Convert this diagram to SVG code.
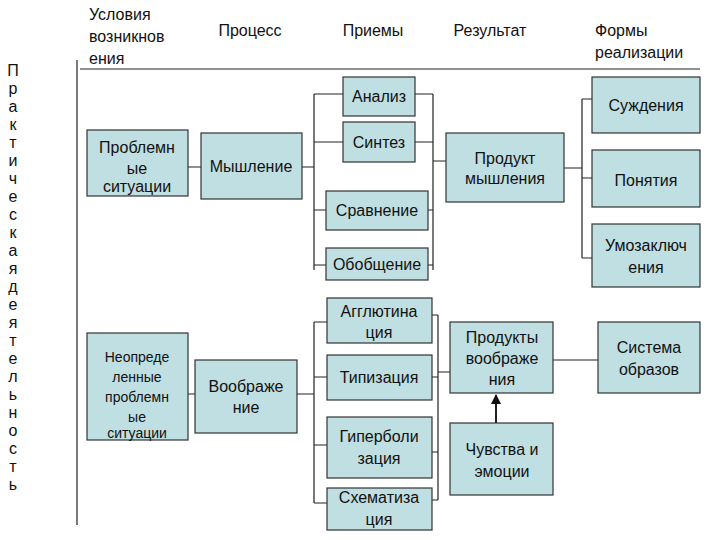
<svg xmlns="http://www.w3.org/2000/svg" width="720" height="540" viewBox="0 0 720 540">
<style>
.b{fill:#bfdfe2;stroke:#333;stroke-width:1.2}
.c{stroke:#222;stroke-width:1.2;fill:none}
text{font-family:"Liberation Sans",Arial,sans-serif;font-size:16px;fill:#111;text-anchor:middle}
.h{text-anchor:start}
.v{font-size:13px;fill:#222}
</style>
<defs><marker id="a" viewBox="0 0 10 10" refX="9" refY="5" markerWidth="5" markerHeight="5" orient="auto"><path d="M0,0L10,5L0,10z" fill="#111"/></marker></defs>
<rect width="720" height="540" fill="#fff"/>
<g id="headers">
<text class="h" x="89" y="20">Условия</text><text class="h" x="89" y="42">возникнов</text><text class="h" x="89" y="64">ения</text>
<text x="250" y="36">Процесс</text><text x="373" y="36">Приемы</text><text x="490" y="36">Результат</text>
<text class="h" x="595" y="36">Формы</text><text class="h" x="595" y="58">реализации</text>
<g class="v">
<text x="13" y="76">П</text><text x="13" y="94">р</text><text x="13" y="112">а</text><text x="13" y="130">к</text><text x="13" y="148">т</text><text x="13" y="166">и</text><text x="13" y="184">ч</text><text x="13" y="202">е</text><text x="13" y="220">с</text><text x="13" y="238">к</text><text x="13" y="256">а</text><text x="13" y="274">я</text><text x="13" y="292">д</text><text x="13" y="310">е</text><text x="13" y="328">я</text><text x="13" y="346">т</text><text x="13" y="364">е</text><text x="13" y="382">л</text><text x="13" y="400">ь</text><text x="13" y="418">н</text><text x="13" y="436">о</text><text x="13" y="454">с</text><text x="13" y="472">т</text><text x="13" y="490">ь</text>
</g>
</g>
<g id="connectors" class="c">
<path d="M77,60V525M80,69H700"/>
<path d="M188,167H201M302,167H314M314,94V270M314,94H343M314,142H343M314,210H326M314,265H326"/>
<path d="M415,94H433M415,142H433M428,210H433M428,265H433M433,94V270M433,161H446"/>
<path d="M564,168H582M582,99V258M582,99H592M582,178H592M582,258H592"/>
<path d="M188,394H195M297,394H314M314,322V503M314,322H327M314,377H327M314,445H327M314,503H327"/>
<path d="M432,315H438M432,377H438M432,452H438M432,500H438M438,315V500M438,372H450"/>
<path d="M553,360H598"/>
<path d="M496,423V395" stroke-width="2" marker-end="url(#a)"/>
</g>
<g id="n1"><rect class="b" x="87" y="130" width="101" height="66"/><text x="137" y="153">Проблемн</text><text x="137" y="174">ые</text><text x="137" y="195" dy="-3">ситуации</text></g>
<g id="n2"><rect class="b" x="201" y="133" width="101" height="66"/><text x="251" y="172">Мышление</text></g>
<g id="n3"><rect class="b" x="343" y="77" width="72" height="39"/><text x="379" y="102">Анализ</text></g>
<g id="n4"><rect class="b" x="343" y="122" width="72" height="40"/><text x="379" y="148">Синтез</text></g>
<g id="n5"><rect class="b" x="326" y="191" width="102" height="39"/><text x="377" y="216">Сравнение</text></g>
<g id="n6"><rect class="b" x="326" y="248" width="102" height="32"/><text x="377" y="270">Обобщение</text></g>
<g id="n7"><rect class="b" x="446" y="133" width="118" height="69"/><text x="505" y="164">Продукт</text><text x="505" y="184">мышления</text></g>
<g id="n8"><rect class="b" x="592" y="77" width="108" height="56"/><text x="646" y="111">Суждения</text></g>
<g id="n9"><rect class="b" x="592" y="150" width="108" height="57"/><text x="646" y="186">Понятия</text></g>
<g id="n10"><rect class="b" x="592" y="224" width="108" height="63"/><text x="646" y="251">Умозаключ</text><text x="646" y="273">ения</text></g>
<g id="n11"><rect class="b" x="87" y="333" width="101" height="107" /><g style="font-size:14px"><text x="137" y="362" style="font-size:14px">Неопреде</text><text x="137" y="382" style="font-size:14px">ленные</text><text x="137" y="402" style="font-size:14px">проблемн</text><text x="137" y="422" style="font-size:14px">ые</text><text x="137" y="442" dy="-4" style="font-size:14px">ситуации</text></g></g>
<g id="n12"><rect class="b" x="195" y="360" width="102" height="73"/><text x="246" y="392">Воображе</text><text x="246" y="413">ние</text></g>
<g id="n13"><rect class="b" x="327" y="298" width="105" height="45"/><text x="379" y="317">Агглютина</text><text x="379" y="338">ция</text></g>
<g id="n14"><rect class="b" x="327" y="355" width="105" height="45"/><text x="379" y="383">Типизация</text></g>
<g id="n15"><rect class="b" x="327" y="417" width="105" height="61"/><text x="379" y="442">Гиперболи</text><text x="379" y="464">зация</text></g>
<g id="n16"><rect class="b" x="327" y="488" width="105" height="42"/><text x="379" y="503">Схематиза</text><text x="379" y="525">ция</text></g>
<g id="n17"><rect class="b" x="450" y="322" width="103" height="71"/><text x="502" y="343">Продукты</text><text x="502" y="364">воображе</text><text x="502" y="385">ния</text></g>
<g id="n18"><rect class="b" x="450" y="423" width="103" height="72"/><text x="502" y="455">Чувства и</text><text x="502" y="477">эмоции</text></g>
<g id="n19"><rect class="b" x="598" y="322" width="102" height="71"/><text x="649" y="353">Система</text><text x="649" y="375">образов</text></g>
</svg>
